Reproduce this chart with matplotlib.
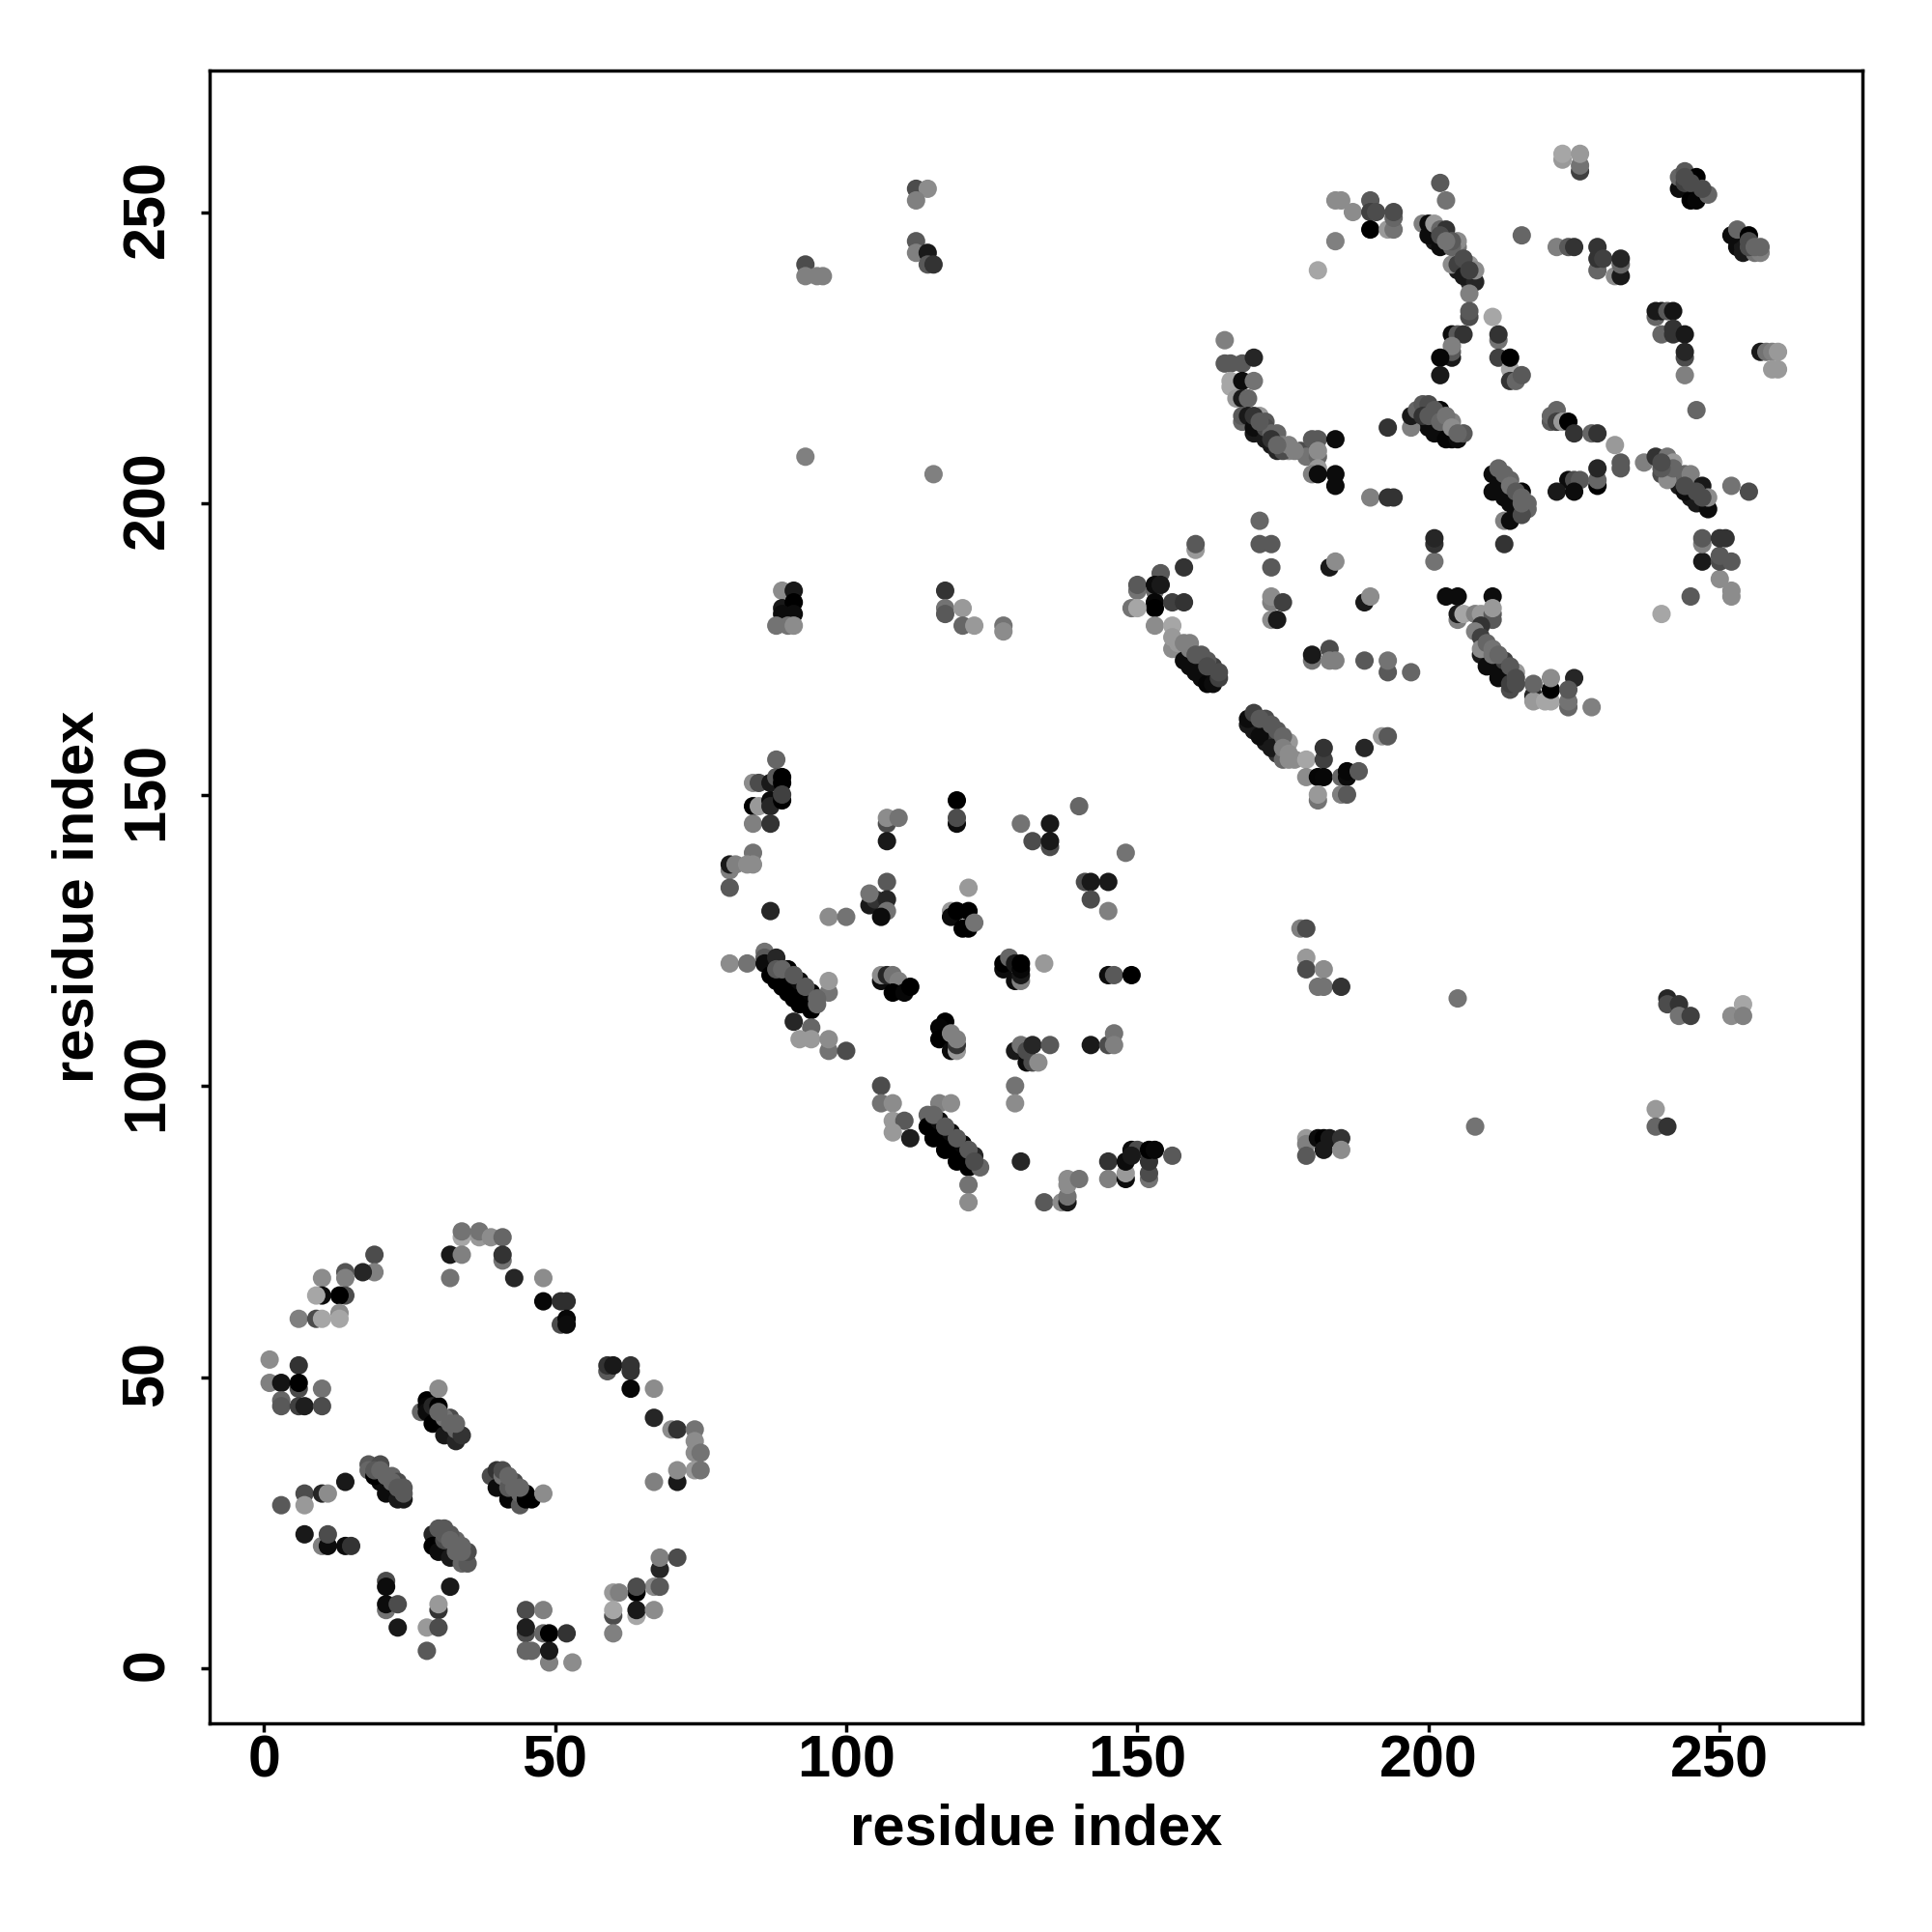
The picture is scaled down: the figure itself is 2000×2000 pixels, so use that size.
import numpy as np
import matplotlib
matplotlib.use("Agg")
import matplotlib.pyplot as plt
from matplotlib.transforms import ScaledTranslation

# (residue i, residue j, shade level)
strand_dark = [
(29,44,.05),(30,43,.05),(31,42,.05),(32,41,.1),(33,40,.1),(20,32,.05),(21,31,.05),(22,30,.05),(23,30,.1),(24,29,.1),
(41,32,.05),(42,30,.05),(43,29,.05),(44,29,.1),(30,22,.05),(31,20,.05),(32,20,.05),(33,19,.05),(34,19,.1),
(88,118,0),(89,118,0),(90,116,0),(91,116,0),(92,114,0),(93,115,0),(94,113,0),
(116,92,0),(117,91,0),(118,90,0),(119,89,0),(120,88,0),(121,87,0),
(170,161,.1),(171,161,.1),(172,159,.1),(173,159,.2),(174,157,.2),(175,157,.3),
(158,174,.1),(159,172,.05),(160,172,.1),(161,170,.05),(162,170,.1),
(210,173,.05),(211,172,.05),(212,171,.05),(213,170,.1),(214,170,.2),
(200,247,.05),(201,246,.05),(201,245,.1),(205,240,.1),(206,240,.2),(207,238,.2),
(169,214,.05),(170,212,.1),(171,212,.1),(173,210,.1),
(198,215,.05),(199,214,.05),(200,213,.05),(201,212,.05),(202,212,.05),(203,213,.05),(204,211,.05),
(212,203,.05),(213,202,.05),(214,200,.05),(215,200,.05),(216,199,.05),
(244,254,.05),(245,253,.1),(253,245,.05),(253,244,.05),(254,244,.1),(243,203,.1),(245,201,.1),(246,200,.1),
]
domain1_outer = [
(19,71,.3),(19,68,.5),(17,68,.15),(14,68,.33),(14,67,.5),(10,67,.55),(14,64,.3),(13,64,0),(10,64,.05),(9,64,.65),
(6,60,.5),(9,60,.3),(10,60,.65),(13,61,.55),(13,60,.65),(34,74,.65),(37,74,.6),(34,75,.45),(37,75,.45),(39,74,.55),(41,74,.4),
(32,71,.1),(34,71,.5),(41,70,.45),(41,71,.2),(32,67,.45),(43,67,.15),(48,67,.55),(48,63,.03),(51,63,.18),(52,63,.18),
(51,59,.3),(52,60,.03),(52,59,.05),(1,53,.55),(1,49,.5),(3,49,.08),(6,52,.2),(6,48,.3),(6,49,0),(10,48,.45),
(3,46,.4),(3,45,.35),(6,45,.25),(7,45,.12),(10,45,.3),(14,32,.1),(7,30,.3),(10,30,.15),(11,30,.55),(3,28,.35),(7,28,.6),
(7,23,.1),(10,21,.5),(11,21,.05),(11,23,.3),(14,21,.05),(15,21,.2),(32,14,.1),(21,15,.3),(21,14,.05),(21,10,.45),(21,11,.05),(23,11,.3),(23,7,.1),
(30,10,.2),(30,11,.6),(28,7,.6),(30,7,.3),(28,3,.35),(45,10,.3),(48,10,.5),(45,6,.3),(45,7,.12),(48,6,.4),(49,6,0),(52,6,.2),
(45,3,.4),(46,3,.4),(49,1,.5),(49,3,.1),(53,1,.55),(59,51,.35),(59,52,.2),(60,52,.1),(63,51,.2),(63,52,.2),(63,48,.03),(67,48,.55),
(67,43,.15),(70,41,.55),(71,41,.2),(74,41,.45),(74,39,.55),(74,37,.55),(75,37,.45),(74,34,.6),(75,34,.45),(71,32,.1),(71,34,.55),(67,32,.5),
(68,17,.15),(68,19,.5),(71,19,.3),(67,14,.55),(68,14,.35),(64,13,0),(64,14,.3),(60,13,.6),(61,13,.5),(64,9,.65),(64,10,.1),(67,10,.55),
(60,9,.3),(60,10,.65),(60,6,.5),
]
domain1_strands = [
(27,44,.4),(28,46,0),(28,45,.02),(28,44,.05),(29,42,0),(31,40,.1),(33,39,.15),(29,45,.15),(30,45,0),(33,41,.4),(32,43,.3),(31,43,.45),(34,40,.2),(30,48,.55),
(18,35,.35),(18,34,.4),(19,33,0),(21,30,.05),(23,29,.1),(20,35,.3),(21,33,.4),(22,33,.4),(23,32,.3),(24,30,.35),(24,31,.35),
(39,33,.3),(40,34,.2),(40,31,.05),(42,29,.02),(44,28,.35),(41,33,.45),(42,31,.35),(43,32,.3),(44,30,.4),(45,29,0),(46,29,0),(45,30,0),(48,30,.55),
(29,23,.15),(30,24,.35),(31,24,.35),(29,21,0),(30,20,.05),(32,19,.1),(31,22,.3),(33,22,.4),(34,18,.4),(35,18,.35),(35,20,.3),
]
domain2_upper = [
(88,156,.4),(84,152,.55),(85,152,.3),(87,152,.1),(88,153,.35),(89,153,0),(89,152,0),(84,148,0),(85,148,.6),(87,149,.05),(87,148,.15),
(89,149,0),(89,150,.25),(84,145,.5),(87,145,.2),(84,140,.45),(80,137,.5),(80,138,.1),(81,138,.5),(83,138,.55),(84,138,.55),(80,134,.35),
(87,130,.15),(97,129,.55),(100,129,.45),(107,145,.3),(107,146,.55),(109,146,.45),(107,142,.1),(107,135,.35),(104,131,.1),(105,132,.2),(104,133,.45),
(107,132,.15),(107,130,.45),(106,129,.05),(119,145,.05),(119,149,0),(119,146,.3),(121,134,.6),(118,130,.6),(118,129,.05),(119,130,0),(121,130,0),
(120,127,0),(121,127,0),(122,128,.45),(130,145,.45),(135,145,.1),(132,142,.3),(135,141,.3),(135,142,.1),(140,148,.4),(148,140,.45),
(141,135,.3),(142,135,.1),(145,135,.1),(142,132,.3),(145,130,.5),
]
domain2_lower = [
(80,121,.55),(83,121,.45),(86,123,.45),(86,122,.35),(86,121,.05),(88,122,.15),(87,119,0),(90,120,0),(89,117,0),(92,118,.05),(91,115,0),
(93,114,0),(94,116,.02),(95,114,.4),(97,116,.45),(97,118,.6),(91,111,.15),(94,110,.4),(92,108,.6),(94,108,.6),(97,106,.45),(97,108,.55),(100,106,.3),
(106,118,.05),(106,119,.55),(107,119,.15),(108,119,.45),(109,118,.5),(108,116,0),(110,116,.03),(111,117,0),
(127,120,.05),(127,121,0),(128,122,.4),(129,121,.1),(129,118,.05),(130,118,.5),(130,119,.1),(130,120,.03),(130,121,0),(134,121,.6),
(145,119,.05),(146,119,.35),(149,119,0),(117,111,0),(116,110,.02),(116,108,0),(118,106,.05),(119,106,.6),(119,107,.2),(118,109,.5),(119,108,.5),
(129,106,.1),(130,107,.45),(131,104,.05),(131,106,.3),(132,104,.3),(132,107,.15),(133,104,.55),(135,107,.35),(142,107,.1),(145,107,.3),(146,109,.45),(146,107,.5),
(129,100,.45),(129,97,.55),(106,100,.3),(106,97,.45),(108,97,.55),(108,94,.6),(110,94,.35),(108,92,.6),(111,91,.12),
(114,95,.4),(114,93,0),(115,91,0),(116,94,.05),(116,97,.5),(118,97,.55),(118,92,.05),(117,89,0),(120,90,.03),(119,87,0),(122,88,.15),(121,86,0),(123,86,.4),
(121,83,.45),(121,80,.55),(130,87,.15),(145,87,.2),(145,84,.5),(148,84,.05),(148,85,.6),(148,87,.05),(149,89,.05),(150,89,.3),(149,88,.1),
(152,84,.45),(152,85,.3),(152,87,.2),(152,89,0),(153,89,.03),(156,88,.35),(134,80,.35),(137,80,.55),(138,80,.1),(138,81,.45),(138,83,.55),(138,84,.55),(140,84,.45),
]
interdomain = [
(93,241,.3),(93,239,.5),(95,239,.5),(96,239,.5),(93,208,.5),(115,205,.5),(112,254,.3),(114,254,.55),(112,252,.5),(112,245,.35),(112,243,.5),(114,243,.1),
(114,241,.35),(115,241,.2),(89,185,.55),(91,185,.1),(89,182,.1),(91,183,0),(89,181,.05),(91,181,.05),(88,179,.45),(90,179,.45),(91,179,.55),
(117,185,.2),(117,182,.45),(117,181,.35),(120,182,.6),(120,179,.4),(122,179,.6),(127,179,.45),(127,178,.55),
(178,127,.5),(179,127,.3),(179,122,.6),(179,120,.3),(182,120,.55),(181,117,.45),(182,117,.45),(185,117,.2),(205,115,.45),
(241,115,.15),(241,114,.3),(243,114,.2),(243,112,.45),(245,112,.25),(252,112,.55),(254,114,.65),(254,112,.5),(239,96,.6),(239,93,.4),(241,93,.2),(208,93,.45),
(179,91,.6),(179,90,.5),(179,88,.35),(181,91,.05),(182,91,0),(183,91,.1),(185,91,.2),(182,89,.1),(185,89,.55),
]
domain3_lower = [
(190,201,.5),(193,201,.2),(194,201,.2),(171,197,.4),(171,193,.35),(173,193,.35),(173,189,.35),(160,192,.6),(160,193,.35),(158,189,.2),
(154,188,.35),(150,185,.45),(150,186,.35),(153,185,.4),(153,186,.05),(154,186,.1),(153,183,.03),(153,182,0),(156,183,.25),(158,183,.2),(149,182,.45),(150,182,.65),
(153,179,.55),(156,179,.65),(156,175,.55),(156,177,.6),(157,176,.6),(159,176,.5),(158,173,.05),(160,171,.05),(162,169,.02),(163,169,.05),(161,174,.35),(163,172,.25),(164,170,.25),
(173,183,.5),(173,184,.55),(175,183,.25),(173,180,.55),(174,180,.1),(183,189,.1),(184,190,.55),(189,183,.1),(190,184,.55),
(180,173,.45),(180,174,.1),(183,175,.3),(183,173,.5),(184,173,.5),(189,173,.35),(193,171,.35),(193,173,.45),(197,171,.4),
(169,162,.1),(169,163,.05),(171,160,.05),(173,158,.1),(170,164,.25),(172,163,.3),(174,161,.35),(175,156,.4),(176,156,.55),(176,159,.6),(177,156,.55),(179,156,.65),(179,153,.55),
(182,156,.25),(182,158,.2),(181,153,.02),(182,153,.03),(185,153,.4),(186,153,.05),(186,154,.03),(188,154,.35),(181,149,.45),(181,150,.6),(185,150,.5),(186,150,.35),
(189,158,.15),(192,160,.6),(193,160,.35),(201,190,.45),(201,193,.2),(201,194,.15),(213,193,.2),(213,197,.5),(203,184,.05),(205,184,.05),(211,184,.05),
(205,180,.5),(205,181,.1),(206,181,.65),(208,181,.5),(209,181,.6),(211,180,.35),(211,181,.35),(211,182,.6),(209,179,.2),(208,178,.5),(209,177,.25),
(209,174,.1),(209,175,.55),(210,172,.05),(212,170,.05),(211,174,.45),(213,173,.25),(214,168,.3),(214,169,.25),(215,171,.6),(218,167,.15),(218,166,.6),(218,169,.4),
(220,166,.65),(221,166,.65),(221,168,0),(221,170,.55),(225,170,.15),(224,165,.4),(224,166,.45),(224,168,.35),(228,165,.5),
]
domain3_upper = [
(181,240,.65),(184,245,.5),(184,252,.55),(185,252,.55),(187,250,.55),(190,252,.35),(190,250,.25),(191,250,.3),(190,247,0),(193,247,.6),(194,247,.45),(194,249,.4),(194,250,.3),
(202,255,.35),(203,252,.45),(199,248,.5),(200,248,.05),(200,246,.05),(202,244,.05),(201,248,.6),(202,247,.4),(203,247,.2),(205,244,.45),(205,245,.55),
(204,241,.55),(205,241,.25),(206,239,.1),(208,238,.15),(207,241,.6),(208,240,.55),(207,236,.5),(207,232,.3),(207,233,.35),(211,232,.65),
(204,229,.05),(205,229,.35),(206,229,.2),(212,228,.45),(212,229,.2),(204,225,.1),(204,226,.35),(204,227,.5),(202,225,.03),(202,222,.1),
(212,225,.25),(214,223,.65),(214,225,0),(214,221,.2),(215,221,.4),(216,222,.35),(216,246,.4),
(222,244,.5),(224,244,.35),(225,244,.2),(229,240,.4),(229,242,.2),(229,244,.2),(230,242,.25),(232,239,.55),(233,239,.1),(233,241,.4),(233,242,.15),
(226,257,.25),(226,258,.45),(223,259,.6),(223,260,.65),(226,260,.6),(243,254,.05),(243,256,.4),(244,255,.25),(244,257,.35),(245,252,0),(246,252,.02),(246,256,0),(248,253,.4),
(252,246,.05),(253,247,.4),(254,243,.1),(255,246,0),(256,243,.45),(257,243,.5),(257,244,.4),
(239,232,.4),(239,233,.1),(240,233,.1),(241,233,.35),(242,233,.08),(240,229,.4),(242,229,.2),(242,230,.2),(244,229,.1),(244,225,.3),(244,226,.15),(244,222,.5),
(257,226,.1),(258,226,.45),(259,226,.5),(260,226,.6),(259,223,.6),(260,223,.6),(246,216,.4),
(165,228,.5),(165,224,.35),(166,224,.35),(168,224,.35),(170,225,.15),(166,220,.65),(166,221,.65),(168,221,.05),(170,221,.45),(167,218,.6),(168,218,.1),(169,218,.4),
(168,214,.4),(168,215,.35),(169,215,.1),(170,213,.05),(171,215,.6),(172,211,.1),(172,214,.35),(174,209,.15),(174,212,.4),(175,210,.5),(176,209,.55),(178,209,.3),(179,208,.45),
(180,211,.35),(181,211,.35),(184,211,.05),(181,208,.4),(181,209,.55),(181,206,.6),(180,205,.5),(181,205,.05),(184,203,.05),(184,205,.05),(193,213,.2),
(197,213,.5),(197,215,.1),(198,216,.4),(199,217,.35),(200,217,.3),(199,215,.2),(201,213,.05),(201,215,.25),(202,216,.03),(203,211,.02),(205,211,.05),(203,214,.5),(204,214,.5),(206,212,.35),
(221,214,.35),(221,215,.4),(222,216,.4),(222,214,.25),(223,214,.6),(224,214,0),(225,212,.2),(228,212,.4),(229,212,.2),(232,210,.6),(233,206,.35),(233,207,.35),(237,207,.5),
(239,208,.2),(241,208,.45),(242,207,.6),(240,205,.3),(242,205,.35),(241,204,.55),(244,202,.05),(244,205,.4),(245,205,.5),(247,203,.1),(248,199,.05),(248,201,.55),(252,203,.45),(255,202,.3),
(224,204,.05),(225,204,.3),(226,204,.35),(229,203,0),(229,204,.4),(229,206,.15),(222,202,.1),(225,202,.05),
(211,202,.05),(211,205,.05),(212,206,.4),(213,201,.05),(214,204,.4),(215,199,.05),(216,202,.03),(217,199,.4),(217,200,.4),(214,197,.05),(216,198,.3),(216,200,.4),
(240,181,.65),(245,184,.35),(252,184,.55),(252,185,.55),(247,190,.1),(250,187,.55),(250,190,.3),(250,191,.35),(252,190,.35),(247,193,.5),(247,194,.35),(250,194,.2),(251,194,.2),
]
strand_light = [
(30,44,.4),(32,42,.4),(33,42,.4),(19,34,.35),(20,34,.4),(22,32,.4),(23,31,.35),(41,34,.3),(42,33,.4),(43,31,.4),(44,31,.4),
(31,23,.35),(32,23,.35),(32,22,.4),(34,21,.4),(34,20,.4),(33,20,.4),(88,120,.35),(89,120,.4),(91,119,.35),(93,117,.35),(95,115,.4),
(115,95,.4),(117,93,.35),(119,91,.35),(121,89,.35),(122,87,.3),(171,163,.35),(173,162,.35),(175,160,.4),(175,158,.5),(176,157,.55),
(158,176,.5),(159,175,.5),(160,174,.35),(162,173,.35),(162,172,.3),(164,171,.3),(210,176,.4),(211,175,.45),(212,174,.4),(214,172,.35),(215,170,.3),(215,169,.3),
(202,246,.3),(204,244,.4),(204,245,.35),(203,245,.45),(206,242,.3),(207,240,.25),(172,213,.3),(173,212,.4),(175,209,.3),(173,211,.2),(176,210,.5),(177,209,.5),(170,215,.2),(171,214,.35),(174,210,.4),
(200,215,.35),(201,216,.35),(202,214,.4),(203,215,.45),(204,213,.55),(205,212,.4),(213,205,.4),(214,203,.45),(215,202,.35),(216,201,.4),
(245,255,.3),(247,254,.3),(244,256,.3),(255,244,.3),(255,245,.3),(256,244,.4),(246,202,.3),(247,201,.3),(244,203,.3),(242,206,.4),(240,206,.35),(240,207,.3),
]

x_ticks = [0, 50, 100, 150, 200, 250]
y_ticks = [0, 50, 100, 150, 200, 250]
axis_label = "residue index"

regions = [strand_dark, domain1_outer, domain1_strands, domain2_upper, domain2_lower,
           interdomain, domain3_lower, domain3_upper, strand_light]
pts = np.array([p for r in regions for p in r], dtype=float)

plt.rcParams['font.family'] = ['Liberation Sans', 'DejaVu Sans']
plt.rcParams['font.weight'] = 'bold'

W = 2000
fig = plt.figure(figsize=(10, 10), dpi=200, facecolor='white')
ax = fig.add_axes([217/W, 1-1784/W, (1928-217)/W, (1784-73)/W])
ax.scatter(pts[:, 0], pts[:, 1], c=pts[:, 2], cmap='gray', vmin=0, vmax=1,
           s=47, linewidths=0, zorder=3)
ax.set_xlim(-9.3, 274.5)
ax.set_ylim(-9.45, 274.3)
ax.set_xticks(x_ticks)
ax.set_yticks(y_ticks)
for s in ax.spines.values():
    s.set_linewidth(1.25)
ax.tick_params(axis='both', length=3.4, width=1.25, labelsize=22)
ax.tick_params(axis='x', pad=0.6)
ax.tick_params(axis='y', pad=9.2)
shift_up = ScaledTranslation(0, 4/200, fig.dpi_scale_trans)
for t in ax.get_yticklabels():
    t.set_rotation(90)
    t.set_va('center')
    t.set_transform(t.get_transform() + shift_up)
ax.set_xlabel(axis_label, fontsize=21.5, fontweight='bold')
ax.set_ylabel(axis_label, fontsize=21.5, fontweight='bold')
ax.xaxis.set_label_coords(0.5, -0.0645)
ax.yaxis.set_label_coords(-0.0792, 0.5)
ax.xaxis.label.set_va('center')
ax.yaxis.label.set_va('center')
fig.savefig('out.png', dpi=200, facecolor='white')
